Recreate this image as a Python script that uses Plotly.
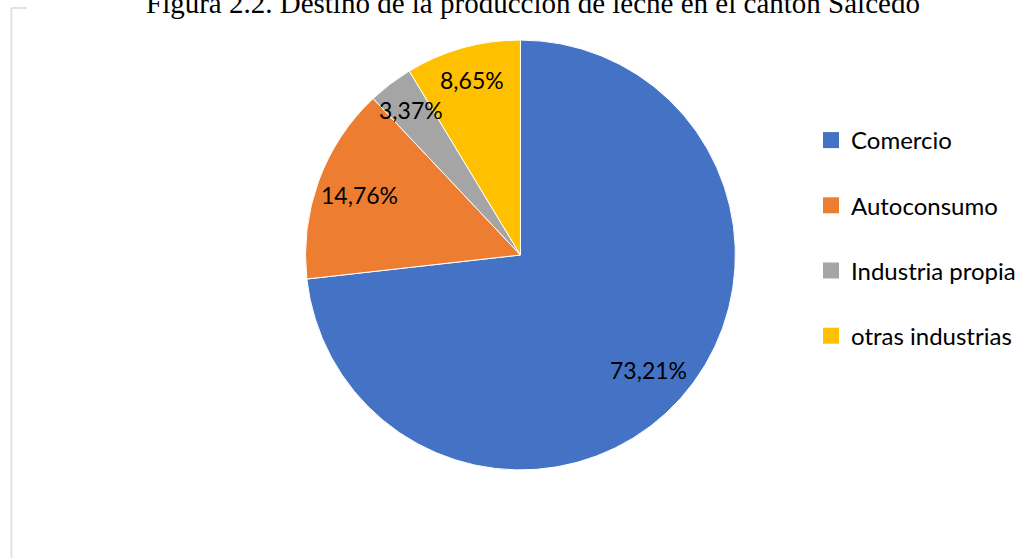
import math
import plotly.graph_objects as go

categories = ["Comercio", "Autoconsumo", "Industria propia", "otras industrias"]
values = [73.21, 14.76, 3.37, 8.65]
colors = ["#4472C4", "#ED7D31", "#A5A5A5", "#FFC000"]
title_text = "Figura 2.2. Destino de la producción de leche en el cantón Salcedo"

W, H = 1021, 558
CX, CY, R = 523, 255, 216  # pie centre / radius in pixels
labels_txt = [f"{v:.2f}".replace(".", ",") + "%" for v in values]

fig = go.Figure()
fig.add_trace(go.Pie(
    labels=categories, values=values, text=labels_txt,
    textinfo="none", sort=False, direction="clockwise", rotation=0,
    marker=dict(colors=colors, line=dict(color="white", width=1)),
    domain=dict(x=[(CX - R) / W, (CX + R) / W], y=[(H - CY - R) / H, (H - CY + R) / H]),
    showlegend=False, hoverinfo="label+text",
))
for i, (c, col) in enumerate(zip(categories, colors)):
    fig.add_trace(go.Scatter(
        x=[None], y=[None], mode="markers", name=c, legendgroup=f"g{i}",
        marker=dict(symbol="square", size=16, color=col), showlegend=True,
    ))

# data labels placed at mid-angle of each slice (computed from values)
annotations = []
total = sum(values)
cum = 0.0
for v, t in zip(values, labels_txt):
    mid = (cum + v / 2) / total * 2 * math.pi
    cum += v
    f = 0.80 if v > 10 else 0.84
    annotations.append(dict(
        text=t, xref="paper", yref="paper",
        x=(CX + f * R * math.sin(mid)) / W, y=(H - CY + f * R * math.cos(mid)) / H,
        xanchor="center", yanchor="middle", showarrow=False,
        font=dict(family="Lato, Open Sans, sans-serif", size=23, color="#000000")))

annotations.append(dict(text=title_text, x=536 / W, xref="paper", y=1 + 15 / H, yref="paper",
                        xanchor="center", yanchor="top", showarrow=False,
                        font=dict(family="Liberation Serif, Times New Roman, serif", size=29, color="#000000")))

fig.update_layout(
    width=W, height=H,
    margin=dict(l=0, r=0, t=0, b=0),
    paper_bgcolor="white", plot_bgcolor="white",
    xaxis=dict(visible=False), yaxis=dict(visible=False),
    showlegend=True,
    legend=dict(x=815 / W, xanchor="left", y=1 - 118 / H, yanchor="top",
                font=dict(family="Lato, Open Sans, sans-serif", size=24, color="#000000"),
                tracegroupgap=31, bgcolor="rgba(0,0,0,0)"),
    annotations=annotations,
    shapes=[
        dict(type="line", xref="paper", yref="paper", x0=11.5 / W, x1=11.5 / W, y0=0, y1=1 - 8 / H,
             line=dict(color="#dce3eb", width=2)),
        dict(type="line", xref="paper", yref="paper", x0=11.5 / W, x1=27 / W, y0=1 - 8 / H, y1=1 - 8 / H,
             line=dict(color="#dce3eb", width=2)),
    ],
)
fig.write_html("out.html", config={"displayModeBar": False})

with open("out.html", "r", encoding="utf-8") as fh:
    html = fh.read()
html = html.replace("<body>", '<body style="margin:0;padding:0;overflow:hidden">', 1)
with open("out.html", "w", encoding="utf-8") as fh:
    fh.write(html)
